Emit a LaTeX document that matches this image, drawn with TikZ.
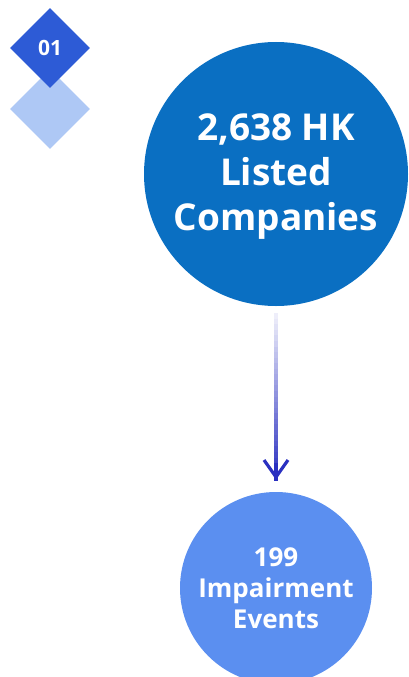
\documentclass[tikz,border=0pt]{standalone}
\usepackage{fontspec}
\setmainfont{Open Sans}
\usepackage{tikz}
\usetikzlibrary{shapes.geometric}
\usetikzlibrary{positioning,arrows.meta,calc}
\definecolor{bigblue}{HTML}{0A6FC2}
\definecolor{smallblue}{HTML}{5B8FF0}
\definecolor{tagdark}{HTML}{2D5BD6}
\definecolor{taglight}{HTML}{AEC8F5}
\definecolor{arrowblue}{HTML}{2A30C0}
\tikzset{
    stage/.style={circle,fill=#1,inner sep=0pt,text=white,font=\bfseries,align=center},
    tag/.style={diamond,fill=#1,inner sep=0pt,minimum width=80pt,minimum height=80pt,text=white,font=\bfseries\fontsize{21}{24}\selectfont},
}
\begin{document}
\begin{tikzpicture}[x=1pt,y=-1pt]
\useasboundingbox (0,0) rectangle (409,677);
\node[tag=taglight](tagB) at (50,109) {};
\node[tag=tagdark](tagA) at (50,48) {01};
\node[stage=bigblue,minimum size=264pt](total) at (276,174) {};
\node[font=\bfseries\fontsize{37}{45}\selectfont,text=white,align=center](totaltext) [below=3pt of total.center,anchor=center] {2,638 HK\\Listed\\Companies};
\node[stage=smallblue,minimum size=192pt,font=\bfseries\fontsize{26}{31}\selectfont](events) at (276,588) {199\\Impairment\\Events};
\coordinate[below=7pt of total](a0);
\coordinate[above=12pt of events](a1);
% shaft fades in from white
\foreach \i in {0,...,29}{
  \pgfmathtruncatemacro{\mix}{8+\i*92/29}
  \draw[line width=3.2pt,color=arrowblue!\mix!white] ($(a0)!\i/30!(a1)$) -- ($(a0)!\i/30+1/30+0.005!(a1)$);
}
\draw[arrowblue,line width=3.2pt,-{Straight Barb[length=17pt,width=24pt]}] ($(a0)!0.9!(a1)$) -- (a1);
\end{tikzpicture}
\end{document}
